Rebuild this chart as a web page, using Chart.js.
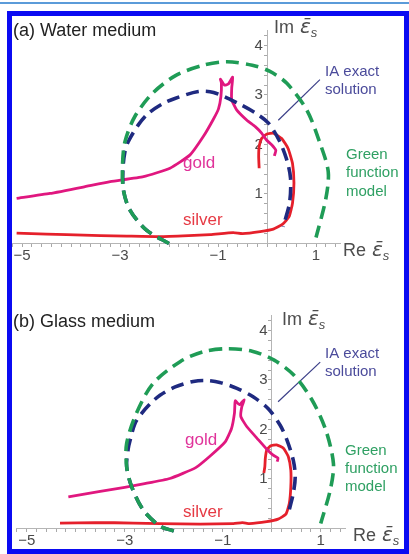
<!DOCTYPE html>
<html>
<head>
<meta charset="utf-8">
<title>Gold and silver permittivity loci</title>
<script src="https://cdn.jsdelivr.net/npm/chart.js@4.4.0/dist/chart.umd.min.js"></script>
<style>
  html, body { margin: 0; padding: 0; background: #fff; }
  body { width: 409px; height: 554px; position: relative; overflow: hidden; }
  .topline { position: absolute; left: 0; top: 2px; width: 409px; height: 2px; background: #5b9bd9; }
  .frame { position: absolute; left: 7px; top: 11px; width: 392px; height: 533px; border: 5px solid #0b0bf2; z-index: 2; pointer-events: none; }
  .panel { position: absolute; left: 0; width: 409px; height: 277px; }
  #panelA { top: 0; }
  #panelB { top: 277px; }
</style>
</head>
<body>
<div class="topline"></div>
<div class="panel" id="panelA"><canvas id="chartA" width="409" height="277"></canvas></div>
<div class="panel" id="panelB"><canvas id="chartB" width="409" height="277"></canvas></div>
<div class="frame"></div>

<script>
// --- tick labels ---
const reTicks = [-5, -3, -1, 1];
const imTicks = [1, 2, 3, 4];

// --- (a) water medium: [Re, Im] ---
const goldWater = [[-5.11, 0.91], [-4.43, 1.01], [-3.75, 1.14], [-3.2, 1.25], [-2.52, 1.35], [-1.98, 1.52],
  [-1.57, 1.79], [-1.3, 2.16], [-1.1, 2.5], [-0.99, 2.72], [-0.94, 2.97], [-0.93, 3.24], [-0.95, 3.32],
  [-0.87, 3.2], [-0.79, 3.22], [-0.7, 3.36], [-0.72, 3.14], [-0.72, 2.9], [-0.62, 2.7], [-0.41, 2.49],
  [-0.24, 2.36], [-0.11, 2.23], [-0.01, 2.09], [0.1, 1.99], [0.18, 1.88], [0.15, 1.77]];
const silverWater = [[-5.11, 0.21], [-4.5, 0.19], [-4.09, 0.18], [-3.4, 0.16], [-2.86, 0.15], [-2.18, 0.14],
  [-1.6, 0.16], [-1.16, 0.18], [-0.69, 0.22], [-0.5, 0.2], [-0.14, 0.24], [0.13, 0.29], [0.32, 0.39],
  [0.45, 0.54], [0.52, 0.81], [0.55, 1.22], [0.52, 1.62], [0.43, 1.92], [0.3, 2.12], [0.13, 2.23],
  [0.0, 2.21], [-0.11, 2.12], [-0.16, 1.96], [-0.17, 1.75], [-0.16, 1.52]];
const greenWater = [[-2.0, 0.0], [-2.46, 0.27], [-2.8, 0.68], [-2.93, 1.08], [-2.95, 1.55], [-2.9, 2.05],
  [-2.7, 2.56], [-2.33, 3.04], [-1.85, 3.4], [-1.3, 3.6], [-0.82, 3.67], [-0.3, 3.6], [0.05, 3.48],
  [0.4, 3.24], [0.81, 2.7], [1.08, 2.03], [1.25, 1.45], [1.2, 0.9], [1.0, 0.12]];
const iaWater = [[-2.0, 0.0], [-2.46, 0.27], [-2.8, 0.68], [-2.93, 1.08], [-2.94, 1.5], [-2.9, 1.85],
  [-2.83, 2.06], [-2.63, 2.39], [-2.42, 2.63], [-2.12, 2.83], [-1.88, 2.93], [-1.4, 3.07], [-1.09, 3.05],
  [-0.59, 2.83], [-0.21, 2.62], [0.03, 2.43], [0.25, 2.08], [0.4, 1.7], [0.48, 1.32], [0.46, 0.82], [0.33, 0.34]];
const leaderWater = [[0.23, 2.49], [1.08, 3.31]];

// --- (b) glass medium: [Re, Im] ---
const goldGlass = [[-4.15, 0.64], [-3.5, 0.75], [-3.0, 0.83], [-2.62, 0.9], [-2.08, 1.01], [-1.55, 1.23],
  [-1.25, 1.47], [-0.95, 1.75], [-0.82, 2.02], [-0.76, 2.33], [-0.75, 2.53], [-0.74, 2.58], [-0.66, 2.5],
  [-0.56, 2.6], [-0.61, 2.46], [-0.63, 2.26], [-0.51, 2.06], [-0.27, 1.79], [-0.1, 1.6], [0.03, 1.48],
  [0.13, 1.42], [0.11, 1.35]];
const silverGlass = [[-4.32, 0.11], [-3.6, 0.12], [-2.82, 0.11], [-2.28, 0.1], [-1.46, 0.09], [-0.78, 0.1],
  [-0.6, 0.12], [-0.45, 0.1], [-0.1, 0.14], [0.13, 0.19], [0.29, 0.29], [0.36, 0.51], [0.39, 0.84],
  [0.39, 1.18], [0.34, 1.45], [0.24, 1.62], [0.1, 1.69], [-0.02, 1.67], [-0.1, 1.59], [-0.13, 1.42],
  [-0.14, 1.25], [-0.16, 1.12]];
const greenGlass = [[-2.0, -0.05], [-2.28, 0.05], [-2.62, 0.37], [-2.86, 0.85], [-2.96, 1.25], [-2.96, 1.72],
  [-2.76, 2.33], [-2.42, 2.93], [-1.87, 3.37], [-1.4, 3.57], [-0.92, 3.63], [-0.4, 3.58], [0.05, 3.4],
  [0.45, 3.1], [0.82, 2.6], [1.1, 2.0], [1.26, 1.31], [1.2, 0.8], [1.0, 0.1]];
const iaGlass = [[-2.0, -0.05], [-2.28, 0.05], [-2.62, 0.37], [-2.86, 0.85], [-2.96, 1.25], [-2.93, 1.6],
  [-2.89, 1.78], [-2.79, 2.12], [-2.65, 2.33], [-2.47, 2.53], [-2.28, 2.69], [-1.97, 2.86], [-1.6, 2.97],
  [-1.36, 2.99], [-1.06, 2.95], [-0.71, 2.83], [-0.38, 2.66], [-0.07, 2.42], [0.17, 2.09], [0.31, 1.79],
  [0.44, 1.38], [0.48, 1.05], [0.44, 0.71], [0.34, 0.31]];
const leaderGlass = [[0.13, 2.56], [0.99, 3.36]];

const FONT = '"Liberation Sans", Arial, sans-serif';
const colors = { gold: '#e0177f', silver: '#e5202b', green: '#1f9c56', ia: '#1f2a80' };

const toXY = arr => arr.map(p => ({ x: p[0], y: p[1] }));

function curve(data, color, dashed, width, tension) {
    return {
        data: toXY(data),
        showLine: true,
        borderColor: color,
        borderWidth: width,
        borderDash: dashed ? [13, 7] : [],
        pointRadius: 0,
        tension: tension,
        clip: false
    };
}

// texto das anotações + rótulos dos eixos
const notesPlugin = {
    id: 'notes',
    afterDraw(chart, args, opts) {
        const ctx = chart.ctx;
        ctx.save();
        opts.labels.forEach(l => {
            ctx.font = (l.size || 15) + 'px ' + FONT;
            ctx.fillStyle = l.color;
            ctx.textAlign = 'left';
            ctx.textBaseline = 'middle';
            ctx.fillText(l.text, l.x, l.y);
        });
        opts.axisTitles.forEach(t => {
            ctx.textBaseline = 'alphabetic';
            ctx.fillStyle = '#4d4d4d';
            ctx.font = '18px ' + FONT;
            ctx.fillText(t.word, t.x, t.y);
            const w = ctx.measureText(t.word).width + 6;
            ctx.font = 'oblique 20px "DejaVu Sans"';
            ctx.fillText('\u03b5\u0304', t.x + w, t.y);
            const ew = ctx.measureText('\u03b5').width;
            ctx.font = 'italic 13px ' + FONT;
            ctx.fillText('s', t.x + w + ew, t.y + 4);
        });
        ctx.restore();
    }
};

function makePanel(canvasId, sets, padding, labels, axisTitles) {
    const ctx = document.getElementById(canvasId).getContext('2d');
    return new Chart(ctx, {
        type: 'scatter',
        data: {
            datasets: [
                curve(sets.green, colors.green, true, 3.6, 0.3),
                curve(sets.ia, colors.ia, true, 3.6, 0.3),
                curve(sets.leader, '#3b3f88', false, 1.2, 0),
                curve(sets.gold, colors.gold, false, 2.8, 0.15),
                curve(sets.silver, colors.silver, false, 2.8, 0.15)
            ]
        },
        options: {
            responsive: false,
            animation: false,
            events: [],
            layout: { padding: padding },
            plugins: {
                legend: { display: false },
                tooltip: { enabled: false },
                notes: { labels: labels, axisTitles: axisTitles }
            },
            scales: {
                x: {
                    type: 'linear', min: -5.2, max: 1.5, position: { y: 0 },
                    border: { color: '#b5b5b5', width: 1 },
                    grid: { drawOnChartArea: false, tickLength: 3, color: '#a9a9a9' },
                    ticks: {
                        stepSize: 0.2, autoSkip: false, includeBounds: false, maxRotation: 0, padding: 0,
                        color: '#4a4a4a', font: { family: FONT, size: 15 },
                        callback: v => {
                            const r = Math.round(v * 10) / 10;
                            if (!reTicks.includes(r)) return '';
                            return r < 0 ? '\u2212' + (-r) : String(r);
                        }
                    }
                },
                y: {
                    type: 'linear', min: 0, max: 4.3, position: { x: 0 },
                    border: { color: '#b5b5b5', width: 1 },
                    grid: { drawOnChartArea: false, tickLength: 3, color: '#a9a9a9' },
                    ticks: {
                        stepSize: 0.2, autoSkip: false, includeBounds: false, padding: 0,
                        color: '#4a4a4a', font: { family: FONT, size: 15 },
                        callback: v => {
                            const r = Math.round(v * 10) / 10;
                            return imTicks.includes(r) ? r + ' ' : '';
                        }
                    }
                }
            }
        },
        plugins: [notesPlugin]
    });
}

makePanel('chartA',
    { gold: goldWater, silver: silverWater, green: greenWater, ia: iaWater, leader: leaderWater },
    { left: 12.2, right: 68.5, top: 30.6, bottom: 33.5 },
    [
        { text: '(a) Water medium', x: 13, y: 31, size: 18, color: '#222' },
        { text: 'gold', x: 183, y: 163, size: 17, color: '#e0339a' },
        { text: 'silver', x: 183, y: 220, size: 17, color: '#e63a44' },
        { text: 'IA exact', x: 325, y: 72, size: 15, color: '#4b4b9b' },
        { text: 'solution', x: 325, y: 90, size: 15, color: '#4b4b9b' },
        { text: 'Green', x: 346, y: 155, size: 15, color: '#2fa063' },
        { text: 'function', x: 346, y: 173, size: 15, color: '#2fa063' },
        { text: 'model', x: 346, y: 192, size: 15, color: '#2fa063' }
    ],
    [{ word: 'Im', x: 274, y: 33 }, { word: 'Re', x: 343, y: 256 }]
);

makePanel('chartB',
    { gold: goldGlass, silver: silverGlass, green: greenGlass, ia: iaGlass, leader: leaderGlass },
    { left: 16.9, right: 63.8, top: 38.6, bottom: 25.5 },
    [
        { text: '(b) Glass medium', x: 13, y: 45, size: 18, color: '#222' },
        { text: 'gold', x: 185, y: 163, size: 17, color: '#e0339a' },
        { text: 'silver', x: 183, y: 235, size: 17, color: '#e63a44' },
        { text: 'IA exact', x: 325, y: 77, size: 15, color: '#4b4b9b' },
        { text: 'solution', x: 325, y: 95, size: 15, color: '#4b4b9b' },
        { text: 'Green', x: 345, y: 174, size: 15, color: '#2fa063' },
        { text: 'function', x: 345, y: 192, size: 15, color: '#2fa063' },
        { text: 'model', x: 345, y: 210, size: 15, color: '#2fa063' }
    ],
    [{ word: 'Im', x: 282, y: 48 }, { word: 'Re', x: 353, y: 264 }]
);
</script>
</body>
</html>
